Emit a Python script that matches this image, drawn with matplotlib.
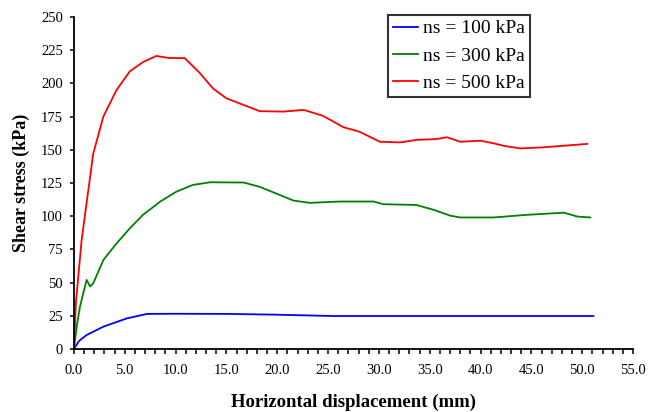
import matplotlib
matplotlib.use("Agg")
import matplotlib.pyplot as plt
from matplotlib.ticker import MultipleLocator, FormatStrFormatter

# Horizontal displacement (mm) / shear stress (kPa)
x_100 = [0.0, 0.5, 1.25, 2.9, 5.2, 7.2, 10.0, 15.0, 20.0, 25.5, 30.0, 35.0, 40.0, 45.0, 51.1]
y_100 = [0.0, 6.0, 10.5, 16.8, 23.0, 26.4, 26.5, 26.4, 25.8, 24.8, 24.8, 24.8, 24.8, 24.8, 24.8]

x_300 = [0.0, 0.3, 0.6, 1.25, 1.6, 1.9, 2.9, 4.2, 5.5, 6.8, 8.5, 10.1, 11.7, 13.4, 16.7,
         18.3, 20.0, 21.6, 23.2, 26.2, 29.5, 30.4, 33.7, 35.4, 37.0, 38.0, 41.3, 44.6,
         48.2, 49.5, 50.8]
y_300 = [0.0, 18.0, 32.0, 52.0, 47.0, 49.4, 67.0, 79.5, 90.8, 101.0, 111.0, 118.5, 123.5,
         125.5, 125.3, 122.0, 116.7, 111.7, 110.0, 111.0, 111.0, 109.0, 108.4, 104.7, 100.4,
         99.0, 99.0, 101.0, 102.6, 99.7, 99.0]

x_500 = [0.0, 0.2, 0.76, 1.9, 2.9, 4.2, 5.5, 6.8, 8.1, 9.4, 10.9, 12.4, 13.7, 15.0, 16.7,
         18.3, 20.6, 22.6, 24.5, 26.5, 28.1, 30.1, 32.1, 33.7, 35.7, 36.7, 38.0, 40.0,
         41.3, 42.3, 43.9, 46.2, 48.2, 50.5]
y_500 = [0.0, 35.0, 82.0, 147.0, 175.0, 195.0, 209.0, 216.0, 220.6, 219.0, 219.0, 207.6,
         196.0, 188.7, 183.7, 179.0, 178.7, 180.0, 175.5, 167.0, 163.5, 156.0, 155.5, 157.4,
         158.0, 159.4, 156.0, 156.8, 154.8, 152.9, 151.0, 151.8, 153.0, 154.4]

labels = ["ns = 100 kPa", "ns = 300 kPa", "ns = 500 kPa"]
colors = ["#0000ff", "#008000", "#ff0000"]

plt.rcParams['font.family'] = ['Liberation Serif', 'DejaVu Serif']

fig = plt.figure(figsize=(6.54, 4.12), dpi=100)
ax = fig.add_axes([0.113, 0.153, 0.855, 0.806])

for xs, ys, lab, c in zip([x_100, x_300, x_500], [y_100, y_300, y_500], labels, colors):
    ax.plot(xs, ys, color=c, linewidth=1.3, label=lab)

ax.set_xlim(0, 55)
ax.set_ylim(0, 250)
ax.xaxis.set_major_locator(MultipleLocator(5))
ax.xaxis.set_minor_locator(MultipleLocator(1))
ax.xaxis.set_major_formatter(FormatStrFormatter('%.1f'))
ax.yaxis.set_major_locator(MultipleLocator(25))

for side in ['top', 'right']:
    ax.spines[side].set_visible(False)
for side in ['left', 'bottom']:
    ax.spines[side].set_linewidth(1.3)

ax.tick_params(axis='both', which='both', direction='out', width=1.1, labelsize=10.5, colors='black')
ax.tick_params(axis='x', which='both', length=3.5, pad=7)
ax.tick_params(axis='y', which='major', length=3, pad=5)

ax.set_xlabel('Horizontal displacement (mm)', fontsize=13.5, fontweight='bold', labelpad=12)
ax.set_ylabel('Shear stress (kPa)', fontsize=13, fontweight='bold', labelpad=8)

leg = ax.legend(loc='upper left', bbox_to_anchor=(388 / 654, 1 - 15 / 412),
                bbox_transform=fig.transFigure, fontsize=14, frameon=True,
                fancybox=False, edgecolor='black', handlelength=1.3,
                handletextpad=0.25, borderpad=0.25, labelspacing=0.5, borderaxespad=0)
leg.get_frame().set_linewidth(1.5)

fig.savefig('out.png', dpi=100)
